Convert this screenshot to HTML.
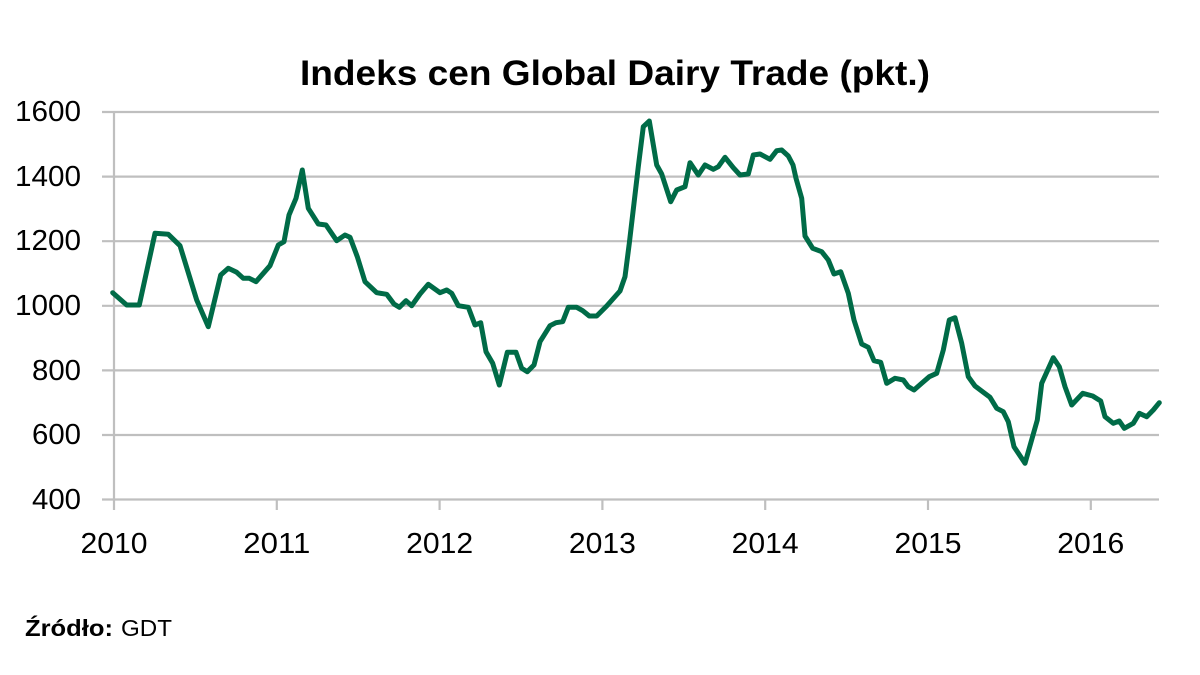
<!DOCTYPE html>
<html><head><meta charset="utf-8"><style>
html,body{margin:0;padding:0;background:#fff;}
svg{display:block;}
text{font-family:"Liberation Sans",sans-serif;fill:#000;}
</style></head><body>
<svg width="1200" height="675" viewBox="0 0 1200 675" xmlns="http://www.w3.org/2000/svg">
<rect width="1200" height="675" fill="#fff"/>
<text x="300" y="85" font-size="35" font-weight="bold" textLength="630" lengthAdjust="spacingAndGlyphs">Indeks cen Global Dairy Trade (pkt.)</text>
<g stroke="#bfbfbf" stroke-width="2.2" fill="none">
<line x1="102" y1="112" x2="1159" y2="112"/>
<line x1="102" y1="176.6" x2="1159" y2="176.6"/>
<line x1="102" y1="241.2" x2="1159" y2="241.2"/>
<line x1="102" y1="305.8" x2="1159" y2="305.8"/>
<line x1="102" y1="370.4" x2="1159" y2="370.4"/>
<line x1="102" y1="435" x2="1159" y2="435"/>
<line x1="102" y1="499.5" x2="1159" y2="499.5"/>
<line x1="114" y1="112" x2="114" y2="510"/>
<line x1="276.8" y1="499.5" x2="276.8" y2="510"/>
<line x1="439.6" y1="499.5" x2="439.6" y2="510"/>
<line x1="602.4" y1="499.5" x2="602.4" y2="510"/>
<line x1="765.2" y1="499.5" x2="765.2" y2="510"/>
<line x1="928" y1="499.5" x2="928" y2="510"/>
<line x1="1090.8" y1="499.5" x2="1090.8" y2="510"/>
</g>
<g font-size="29" text-anchor="end">
<text x="81" y="121" textLength="66" lengthAdjust="spacingAndGlyphs">1600</text>
<text x="81" y="186" textLength="66" lengthAdjust="spacingAndGlyphs">1400</text>
<text x="81" y="250" textLength="66" lengthAdjust="spacingAndGlyphs">1200</text>
<text x="81" y="315" textLength="66" lengthAdjust="spacingAndGlyphs">1000</text>
<text x="81" y="380" textLength="49" lengthAdjust="spacingAndGlyphs">800</text>
<text x="81" y="444" textLength="49" lengthAdjust="spacingAndGlyphs">600</text>
<text x="81" y="509" textLength="49" lengthAdjust="spacingAndGlyphs">400</text>
</g>
<g font-size="29" text-anchor="middle">
<text x="114" y="553" textLength="67" lengthAdjust="spacingAndGlyphs">2010</text>
<text x="276.8" y="553" textLength="67" lengthAdjust="spacingAndGlyphs">2011</text>
<text x="439.6" y="553" textLength="67" lengthAdjust="spacingAndGlyphs">2012</text>
<text x="602.4" y="553" textLength="67" lengthAdjust="spacingAndGlyphs">2013</text>
<text x="765.2" y="553" textLength="67" lengthAdjust="spacingAndGlyphs">2014</text>
<text x="928" y="553" textLength="67" lengthAdjust="spacingAndGlyphs">2015</text>
<text x="1090.8" y="553" textLength="67" lengthAdjust="spacingAndGlyphs">2016</text>
</g>
<polyline fill="none" stroke="#006b47" stroke-width="5" stroke-linejoin="round" stroke-linecap="round" points="
112.7,292.7 126.7,305 139.3,305 155,233.3 168.3,234.3 180,245.7 196.7,300 208.3,326.7 220.7,275 228.3,268.3 236.7,272.3 243.3,278.3 249.3,278.3 256,281.7 270,265.7 278.3,245 284,241.7 289,215 296,198.3 302.3,170 308.3,208.3 318.3,224 326,225 336.7,240.7 345,235 350,237.3 357.3,256.7 365,281.7 376.7,292.7 386.7,294.3 394,304 399.3,307.3 406,300.7 411.7,305.7 420,294 428.3,284.3 440,292.7 446.7,290 451.7,293.3 458.3,305.7 468.3,307.3 475,325 480.7,322.7 486,351.7 492.7,363.3 499.3,385 507.3,352.3 516,352.3 521.7,368.3 527.3,371.7 534,365 540,341.7 550,325.7 556,322.7 562.7,321.7 568.3,307.3 576.7,307.3 582.7,310.7 589.3,316 596.7,316 606.7,306 620,291 625,276.7 629.3,243.3 634,203.3 638.3,166.7 643.3,126.7 649.3,121 656.7,165 661.7,174 670.7,201.7 676.7,190 685,186.7 690,162.7 698.3,175 705,165 713.3,169.3 718.3,166.7 725,157.3 733.3,167.7 740,175 748.3,174 753.3,155 760,154 770,159.3 776.7,150.7 781.7,150 788.3,156 793,165 796,178.3 801.7,198.3 805,236 812.7,248.3 821.7,251.7 828.3,260 834,274 840.7,271.7 848.3,293.3 854,320 861.7,344 868.3,347.3 874,360.7 880.7,362.3 886.7,383.3 895,378.3 903.3,380 908.3,386.7 914,390 921.7,383.3 929.3,376.7 936.7,373.3 943.3,350 949.3,320 955,317.7 961.7,343.3 968.3,376.7 975,386 983.3,392.3 990,397.3 996.7,408.3 1003.3,411.7 1008.3,421.7 1014,446.7 1025,463.3 1037.3,420 1041.7,383.3 1053.3,357.7 1059.3,366.7 1065,386.7 1071.7,405 1082.7,393.3 1092.7,396 1100.7,401 1105,416.7 1113.3,423.3 1119.3,421 1124.3,428.3 1133.3,423.3 1139.3,413.3 1146.7,416.7 1153.3,410 1159.3,402.7"/>
<text x="25" y="636" font-size="23" font-weight="bold" textLength="88" lengthAdjust="spacingAndGlyphs">Źródło:</text>
<text x="121" y="636" font-size="23" textLength="51" lengthAdjust="spacingAndGlyphs">GDT</text>
</svg>
</body></html>
